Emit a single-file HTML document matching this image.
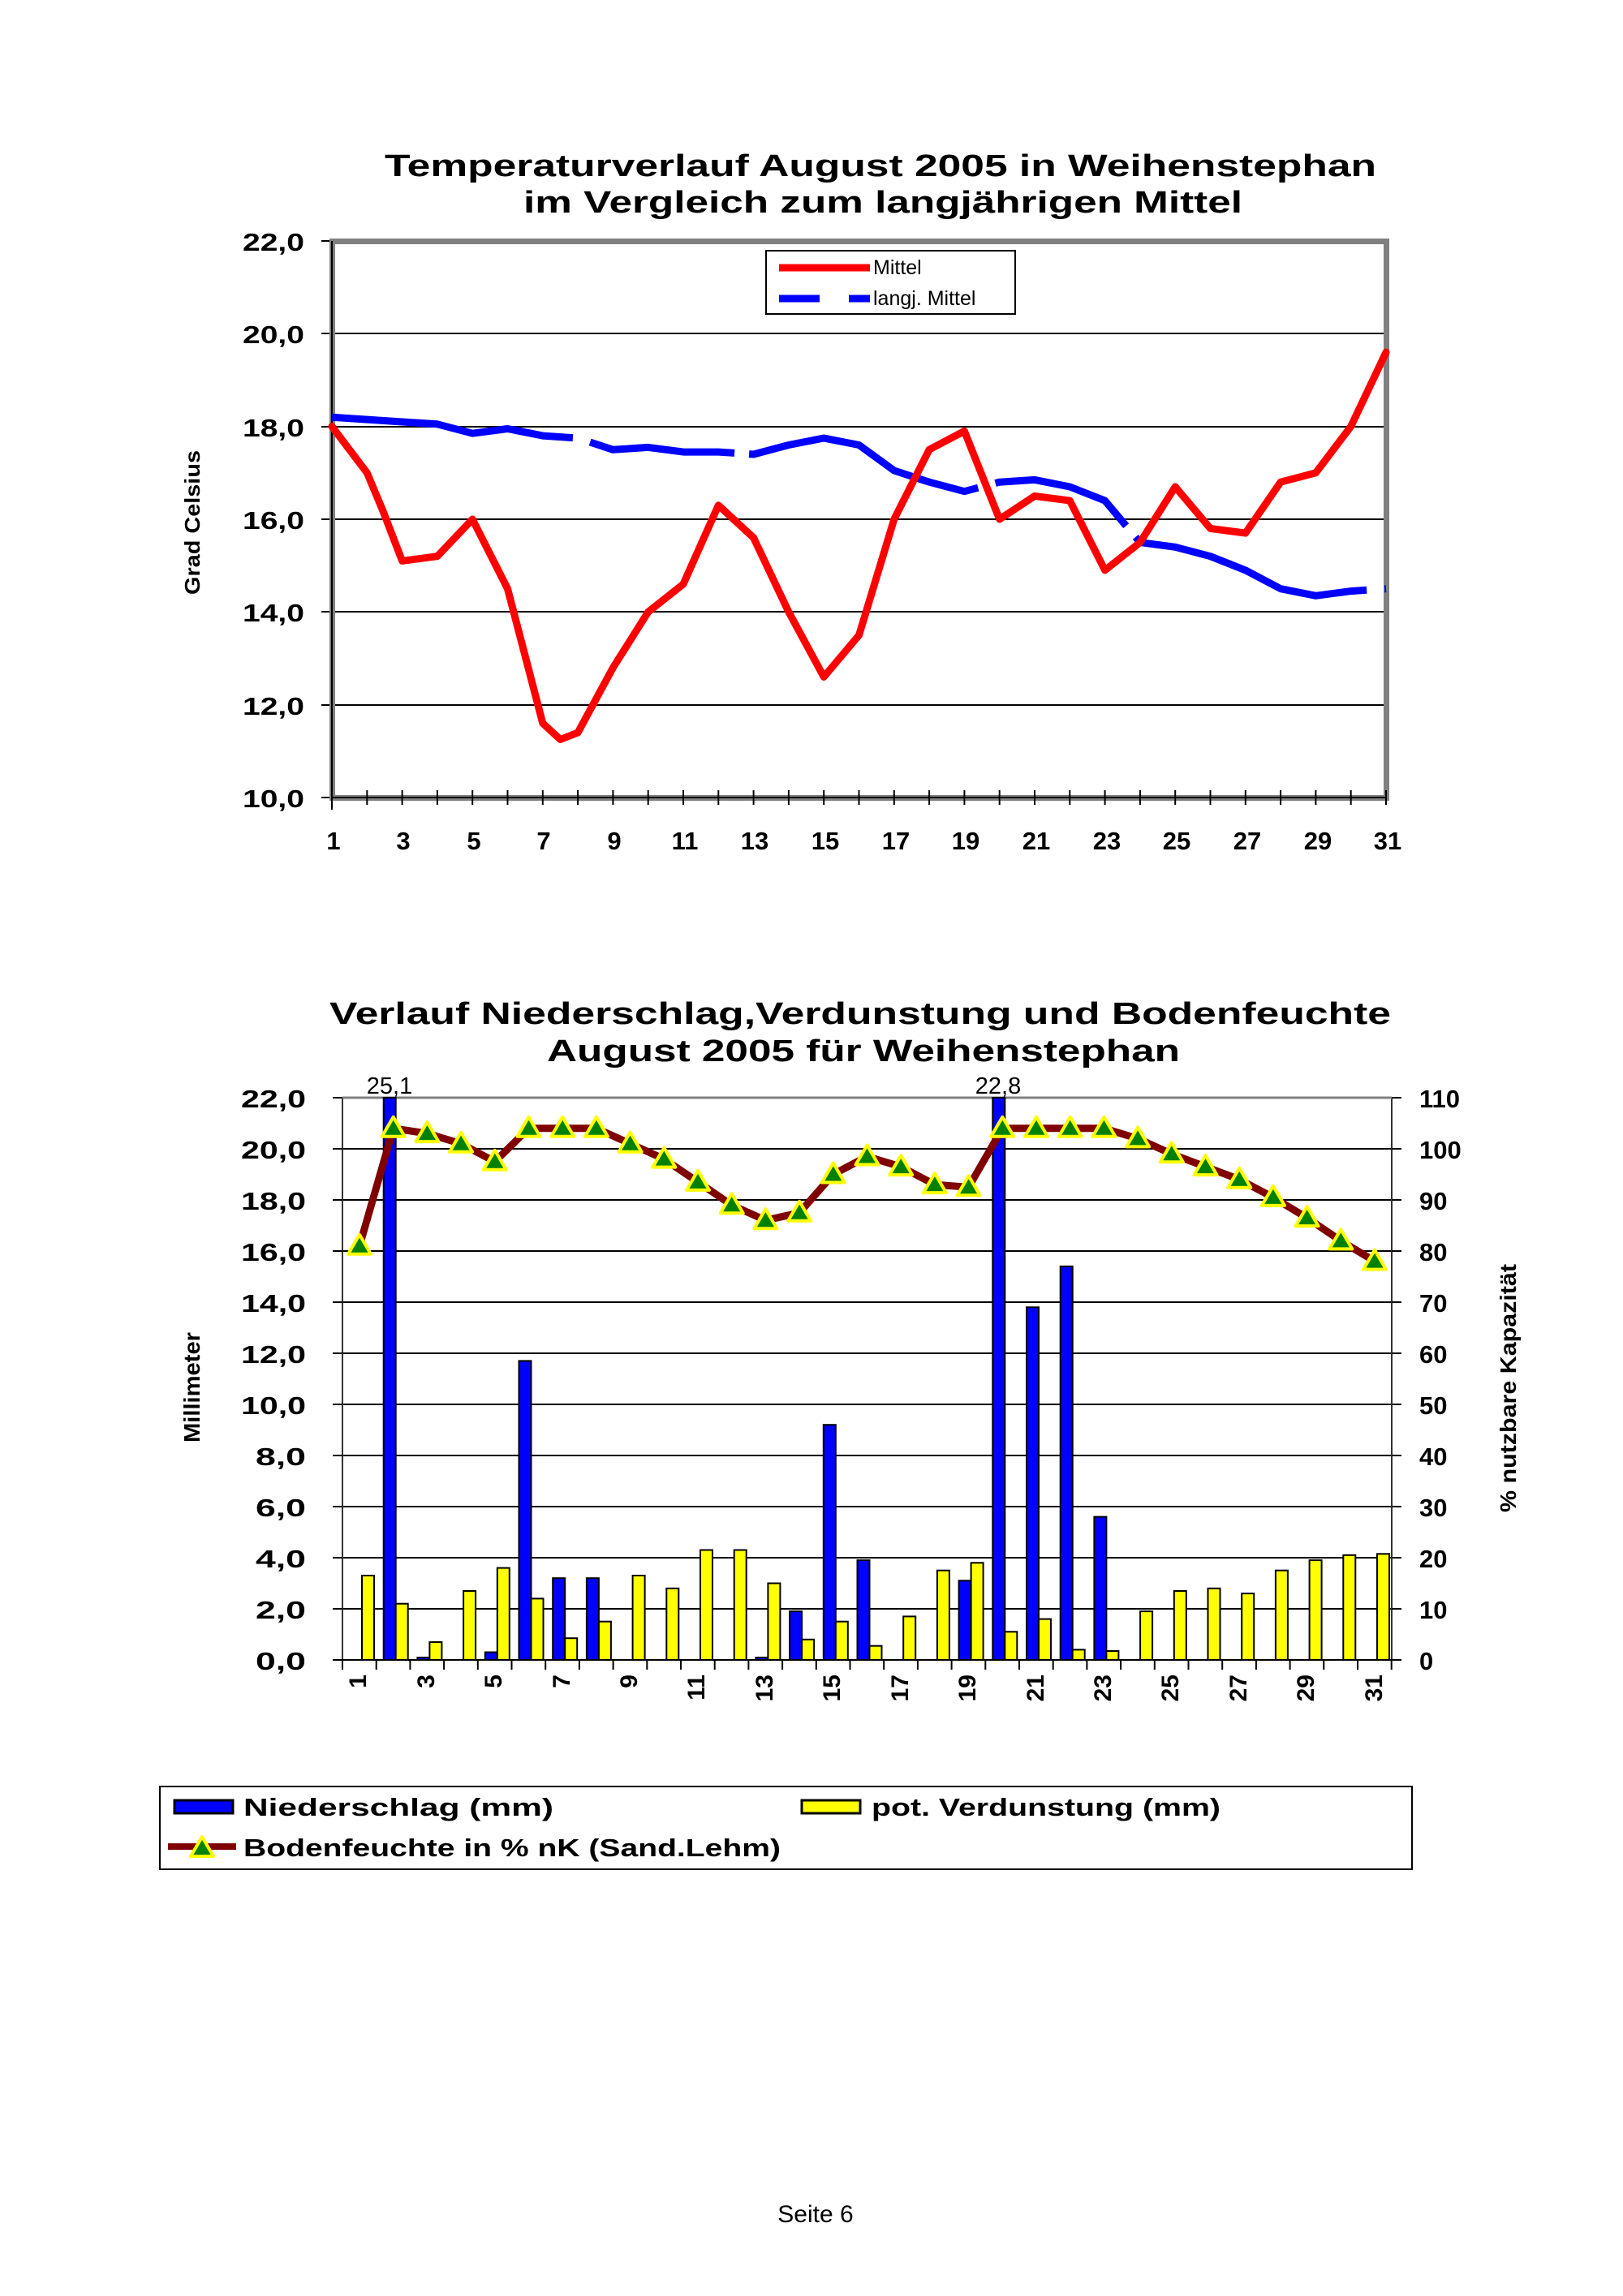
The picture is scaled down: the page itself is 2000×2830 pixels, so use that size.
<!DOCTYPE html>
<html><head><meta charset="utf-8"><style>
html,body{margin:0;padding:0;background:#fff}
svg{display:block}
text{font-family:"Liberation Sans",Arial,sans-serif}
.b{font-weight:bold}
</style></head><body>
<svg width="2000" height="2830" viewBox="0 0 2000 2830" xmlns="http://www.w3.org/2000/svg">
<defs>
<polygon id="tri" points="0,-14 14,10 -14,10" fill="#008000" stroke="#ffff00" stroke-width="4" stroke-linejoin="round"/>
</defs>

<!-- ============ CHART 1 ============ -->
<text class="b" x="1085" y="217" font-size="38" text-anchor="middle" textLength="1222" lengthAdjust="spacingAndGlyphs">Temperaturverlauf August 2005 in Weihenstephan</text>
<text class="b" x="1088" y="262" font-size="38" text-anchor="middle" textLength="886" lengthAdjust="spacingAndGlyphs">im Vergleich zum langjährigen Mittel</text>

<g stroke="#000" stroke-width="2">
<line x1="409" y1="411" x2="1708" y2="411"/>
<line x1="409" y1="526" x2="1708" y2="526"/>
<line x1="409" y1="640" x2="1708" y2="640"/>
<line x1="409" y1="754" x2="1708" y2="754"/>
<line x1="409" y1="869" x2="1708" y2="869"/>
<line x1="396" y1="297" x2="409" y2="297"/>
<line x1="396" y1="411" x2="409" y2="411"/>
<line x1="396" y1="526" x2="409" y2="526"/>
<line x1="396" y1="640" x2="409" y2="640"/>
<line x1="396" y1="754" x2="409" y2="754"/>
<line x1="396" y1="869" x2="409" y2="869"/>
<line x1="396" y1="983" x2="409" y2="983"/>
</g>
<!-- frame -->
<rect x="406" y="294" width="7" height="692" fill="#808080"/>
<rect x="406" y="294" width="1306" height="7" fill="#808080"/>
<rect x="1705" y="294" width="7" height="692" fill="#808080"/>
<rect x="406" y="980" width="1306" height="7" fill="#808080"/>
<line x1="409" y1="297" x2="409" y2="983" stroke="#000" stroke-width="2"/>
<line x1="409" y1="983" x2="1708" y2="983" stroke="#000" stroke-width="2"/>
<g stroke="#000" stroke-width="2">
<path d="M409 983v15M452.3 974v18M495.6 974v18M538.9 974v18M582.2 974v18M625.5 974v18M668.8 974v18M712.1 974v18M755.4 974v18M798.7 974v18M842 974v18M885.3 974v18M928.6 974v18M971.9 974v18M1015.2 974v18M1058.5 974v18M1101.8 974v18M1145.1 974v18M1188.4 974v18M1231.7 974v18M1275 974v18M1318.3 974v18M1361.6 974v18M1404.9 974v18M1448.2 974v18M1491.5 974v18M1534.8 974v18M1578.1 974v18M1621.4 974v18M1664.7 974v18M1708 974v18"/>
</g>
<g class="b" font-size="31" text-anchor="end">
<text x="375" y="309" textLength="76" lengthAdjust="spacingAndGlyphs">22,0</text>
<text x="375" y="423" textLength="76" lengthAdjust="spacingAndGlyphs">20,0</text>
<text x="375" y="538" textLength="76" lengthAdjust="spacingAndGlyphs">18,0</text>
<text x="375" y="652" textLength="76" lengthAdjust="spacingAndGlyphs">16,0</text>
<text x="375" y="766" textLength="76" lengthAdjust="spacingAndGlyphs">14,0</text>
<text x="375" y="881" textLength="76" lengthAdjust="spacingAndGlyphs">12,0</text>
<text x="375" y="995" textLength="76" lengthAdjust="spacingAndGlyphs">10,0</text>
</g>
<g class="b" font-size="31" text-anchor="middle">
<text x="411" y="1047">1</text><text x="497" y="1047">3</text><text x="584" y="1047">5</text><text x="670" y="1047">7</text><text x="757" y="1047">9</text>
<text x="844" y="1047">11</text><text x="930" y="1047">13</text><text x="1017" y="1047">15</text><text x="1104" y="1047">17</text><text x="1190" y="1047">19</text>
<text x="1277" y="1047">21</text><text x="1364" y="1047">23</text><text x="1450" y="1047">25</text><text x="1537" y="1047">27</text><text x="1624" y="1047">29</text><text x="1710" y="1047">31</text>
</g>
<text class="b" font-size="26" transform="translate(246,644) rotate(-90)" text-anchor="middle" textLength="178" lengthAdjust="spacingAndGlyphs">Grad Celsius</text>

<polyline fill="none" stroke="#0000ff" stroke-width="9" stroke-dasharray="300 22 180 18" stroke-linejoin="round" points="409,514.2 452.3,517.1 495.6,520 538.9,522.8 582.2,534.2 625.5,528.5 668.8,537.1 712.1,540 755.4,554.3 798.7,551.4 842,557.1 885.3,557.1 928.6,560 971.9,548.5 1015.2,540 1058.5,548.5 1101.8,580 1145.1,594.2 1188.4,605.7 1231.7,594.2 1275,591.4 1318.3,600 1361.6,617.1 1404.9,668.6 1448.2,674.3 1491.5,685.7 1534.8,702.9 1578.1,725.7 1621.4,734.3 1664.7,728.6 1708,725.7"/>
<polyline fill="none" stroke="#ff0000" stroke-width="9" stroke-linejoin="round" stroke-linecap="round" points="409,525.6 452.3,582.8 472,630 495.6,691.4 538.9,685.7 582.2,640 625.5,725.7 668.8,891.5 690.5,911.5 712.1,903 755.4,823 798.7,754.3 842,720 885.3,622.8 928.6,662.8 971.9,754.3 1015.2,834.4 1058.5,783 1101.8,640 1145.1,554.2 1188.4,531.4 1231.7,640 1275,611.4 1318.3,617.1 1361.6,702.9 1404.9,668.6 1448.2,600 1491.5,651.4 1534.8,657.1 1578.1,594.2 1621.4,582.8 1664.7,525.6 1708,434.2"/>

<rect x="944" y="309" width="307" height="78" fill="#fff" stroke="#000" stroke-width="2"/>
<line x1="960" y1="330" x2="1072" y2="330" stroke="#ff0000" stroke-width="9"/>
<text x="1076" y="338" font-size="25">Mittel</text>
<line x1="960" y1="368" x2="1072" y2="368" stroke="#0000ff" stroke-width="9" stroke-dasharray="50 36"/>
<text x="1076" y="376" font-size="25">langj. Mittel</text>

<!-- ============ CHART 2 ============ -->
<text class="b" x="1060" y="1262" font-size="38" text-anchor="middle" textLength="1308" lengthAdjust="spacingAndGlyphs">Verlauf Niederschlag,Verdunstung und Bodenfeuchte</text>
<text class="b" x="1064" y="1308" font-size="38" text-anchor="middle" textLength="780" lengthAdjust="spacingAndGlyphs">August 2005 für Weihenstephan</text>

<g stroke="#000" stroke-width="2">
<line x1="422" y1="1416" x2="1715" y2="1416"/>
<line x1="422" y1="1479" x2="1715" y2="1479"/>
<line x1="422" y1="1542" x2="1715" y2="1542"/>
<line x1="422" y1="1605" x2="1715" y2="1605"/>
<line x1="422" y1="1668" x2="1715" y2="1668"/>
<line x1="422" y1="1731" x2="1715" y2="1731"/>
<line x1="422" y1="1794" x2="1715" y2="1794"/>
<line x1="422" y1="1857" x2="1715" y2="1857"/>
<line x1="422" y1="1920" x2="1715" y2="1920"/>
<line x1="422" y1="1983" x2="1715" y2="1983"/>
<line x1="422" y1="1353" x2="422" y2="2046" stroke="#333"/>
<line x1="1715" y1="1353" x2="1715" y2="2046" stroke="#333"/>
<line x1="422" y1="2046" x2="1715" y2="2046"/>
<path d="M410 1353h12M410 1416h12M410 1479h12M410 1542h12M410 1605h12M410 1668h12M410 1731h12M410 1794h12M410 1857h12M410 1920h12M410 1983h12M410 2046h12"/>
<path d="M1715 1353h12M1715 1416h12M1715 1479h12M1715 1542h12M1715 1605h12M1715 1668h12M1715 1731h12M1715 1794h12M1715 1857h12M1715 1920h12M1715 1983h12M1715 2046h12"/>
<path d="M422 2046v12M463.7 2046v12M505.4 2046v12M547.1 2046v12M588.8 2046v12M630.5 2046v12M672.2 2046v12M713.9 2046v12M755.6 2046v12M797.3 2046v12M839 2046v12M880.7 2046v12M922.4 2046v12M964.1 2046v12M1005.8 2046v12M1047.5 2046v12M1089.2 2046v12M1130.9 2046v12M1172.6 2046v12M1214.3 2046v12M1256 2046v12M1297.7 2046v12M1339.4 2046v12M1381.1 2046v12M1422.8 2046v12M1464.5 2046v12M1506.2 2046v12M1547.9 2046v12M1589.6 2046v12M1631.3 2046v12M1673 2046v12M1714.7 2046v12"/>
</g>
<line x1="422" y1="1353" x2="1715" y2="1353" stroke="#808080" stroke-width="3"/>

<!-- bars -->
<g transform="translate(0,2046) scale(1,-1)" stroke="#000" stroke-width="2">
<g fill="#0000ff">
<rect x="472.7" y="0" width="15" height="693"/>
<rect x="514.4" y="0" width="15" height="3"/>
<rect x="597.8" y="0" width="15" height="9.5"/>
<rect x="639.5" y="0" width="15" height="368.6"/>
<rect x="681.2" y="0" width="15" height="100.8"/>
<rect x="722.9" y="0" width="15" height="100.8"/>
<rect x="931.4" y="0" width="15" height="3"/>
<rect x="973.1" y="0" width="15" height="59.9"/>
<rect x="1014.8" y="0" width="15" height="289.8"/>
<rect x="1056.5" y="0" width="15" height="122.9"/>
<rect x="1181.6" y="0" width="15" height="97.7"/>
<rect x="1223.3" y="0" width="15" height="693"/>
<rect x="1265" y="0" width="15" height="434.7"/>
<rect x="1306.7" y="0" width="15" height="485.1"/>
<rect x="1348.4" y="0" width="15" height="176.4"/>
</g>
<g fill="#ffff00">
<rect x="446" y="0" width="15" height="104"/>
<rect x="487.7" y="0" width="15" height="69.3"/>
<rect x="529.4" y="0" width="15" height="22"/>
<rect x="571.1" y="0" width="15" height="85"/>
<rect x="612.8" y="0" width="15" height="113.4"/>
<rect x="654.5" y="0" width="15" height="75.6"/>
<rect x="696.2" y="0" width="15" height="26.8"/>
<rect x="737.9" y="0" width="15" height="47.3"/>
<rect x="779.6" y="0" width="15" height="104"/>
<rect x="821.3" y="0" width="15" height="88.2"/>
<rect x="863" y="0" width="15" height="135.5"/>
<rect x="904.7" y="0" width="15" height="135.5"/>
<rect x="946.4" y="0" width="15" height="94.5"/>
<rect x="988.1" y="0" width="15" height="25.2"/>
<rect x="1029.8" y="0" width="15" height="47.3"/>
<rect x="1071.5" y="0" width="15" height="17.3"/>
<rect x="1113.2" y="0" width="15" height="53.6"/>
<rect x="1154.9" y="0" width="15" height="110.3"/>
<rect x="1196.6" y="0" width="15" height="119.7"/>
<rect x="1238.3" y="0" width="15" height="34.7"/>
<rect x="1280" y="0" width="15" height="50.4"/>
<rect x="1321.7" y="0" width="15" height="12.6"/>
<rect x="1363.4" y="0" width="15" height="11"/>
<rect x="1405.1" y="0" width="15" height="59.9"/>
<rect x="1446.8" y="0" width="15" height="85"/>
<rect x="1488.5" y="0" width="15" height="88.2"/>
<rect x="1530.2" y="0" width="15" height="81.9"/>
<rect x="1571.9" y="0" width="15" height="110.3"/>
<rect x="1613.6" y="0" width="15" height="122.9"/>
<rect x="1655.3" y="0" width="15" height="129.2"/>
<rect x="1697" y="0" width="15" height="130.7"/>
</g>
</g>

<text x="480" y="1348" font-size="29" text-anchor="middle">25,1</text>
<text x="1230" y="1348" font-size="29" text-anchor="middle">22,8</text>

<polyline fill="none" stroke="#800000" stroke-width="9" stroke-linejoin="round" points="443,1535.7 484.7,1390.8 526.4,1397.1 568.1,1409.7 609.8,1431.8 651.5,1390.8 693.2,1390.8 734.9,1390.8 776.6,1409.7 818.3,1428.6 860,1456.9 901.7,1485.3 943.4,1504.2 985.1,1494.8 1026.8,1447.5 1068.5,1425.5 1110.2,1438.1 1151.9,1460.1 1193.6,1463.3 1235.3,1390.8 1277,1390.8 1318.7,1390.8 1360.4,1390.8 1402.1,1403.4 1443.8,1422.3 1485.5,1438.1 1527.2,1453.8 1568.9,1475.9 1610.6,1501.1 1652.3,1529.4 1694,1554.6"/>
<g>
<use href="#tri" x="443" y="1535.7"/><use href="#tri" x="484.7" y="1390.8"/><use href="#tri" x="526.4" y="1397.1"/><use href="#tri" x="568.1" y="1409.7"/><use href="#tri" x="609.8" y="1431.8"/><use href="#tri" x="651.5" y="1390.8"/><use href="#tri" x="693.2" y="1390.8"/><use href="#tri" x="734.9" y="1390.8"/><use href="#tri" x="776.6" y="1409.7"/><use href="#tri" x="818.3" y="1428.6"/><use href="#tri" x="860" y="1456.9"/><use href="#tri" x="901.7" y="1485.3"/><use href="#tri" x="943.4" y="1504.2"/><use href="#tri" x="985.1" y="1494.8"/><use href="#tri" x="1026.8" y="1447.5"/><use href="#tri" x="1068.5" y="1425.5"/><use href="#tri" x="1110.2" y="1438.1"/><use href="#tri" x="1151.9" y="1460.1"/><use href="#tri" x="1193.6" y="1463.3"/><use href="#tri" x="1235.3" y="1390.8"/><use href="#tri" x="1277" y="1390.8"/><use href="#tri" x="1318.7" y="1390.8"/><use href="#tri" x="1360.4" y="1390.8"/><use href="#tri" x="1402.1" y="1403.4"/><use href="#tri" x="1443.8" y="1422.3"/><use href="#tri" x="1485.5" y="1438.1"/><use href="#tri" x="1527.2" y="1453.8"/><use href="#tri" x="1568.9" y="1475.9"/><use href="#tri" x="1610.6" y="1501.1"/><use href="#tri" x="1652.3" y="1529.4"/><use href="#tri" x="1694" y="1554.6"/>
</g>

<g class="b" font-size="31" text-anchor="end">
<text x="377" y="1365" textLength="80" lengthAdjust="spacingAndGlyphs">22,0</text>
<text x="377" y="1428" textLength="80" lengthAdjust="spacingAndGlyphs">20,0</text>
<text x="377" y="1491" textLength="80" lengthAdjust="spacingAndGlyphs">18,0</text>
<text x="377" y="1554" textLength="80" lengthAdjust="spacingAndGlyphs">16,0</text>
<text x="377" y="1617" textLength="80" lengthAdjust="spacingAndGlyphs">14,0</text>
<text x="377" y="1680" textLength="80" lengthAdjust="spacingAndGlyphs">12,0</text>
<text x="377" y="1743" textLength="80" lengthAdjust="spacingAndGlyphs">10,0</text>
<text x="377" y="1806" textLength="62" lengthAdjust="spacingAndGlyphs">8,0</text>
<text x="377" y="1869" textLength="62" lengthAdjust="spacingAndGlyphs">6,0</text>
<text x="377" y="1932" textLength="62" lengthAdjust="spacingAndGlyphs">4,0</text>
<text x="377" y="1995" textLength="62" lengthAdjust="spacingAndGlyphs">2,0</text>
<text x="377" y="2058" textLength="62" lengthAdjust="spacingAndGlyphs">0,0</text>
</g>
<g class="b" font-size="31" text-anchor="start">
<text x="1749" y="1365">110</text><text x="1749" y="1428">100</text><text x="1749" y="1491">90</text><text x="1749" y="1554">80</text>
<text x="1749" y="1617">70</text><text x="1749" y="1680">60</text><text x="1749" y="1743">50</text><text x="1749" y="1806">40</text>
<text x="1749" y="1869">30</text><text x="1749" y="1932">20</text><text x="1749" y="1995">10</text><text x="1749" y="2058">0</text>
</g>
<g class="b" font-size="30" text-anchor="end">
<text transform="translate(451,2064) rotate(-90)">1</text>
<text transform="translate(535,2064) rotate(-90)">3</text>
<text transform="translate(618,2064) rotate(-90)">5</text>
<text transform="translate(702,2064) rotate(-90)">7</text>
<text transform="translate(785,2064) rotate(-90)">9</text>
<text transform="translate(868,2064) rotate(-90)">11</text>
<text transform="translate(952,2064) rotate(-90)">13</text>
<text transform="translate(1035,2064) rotate(-90)">15</text>
<text transform="translate(1119,2064) rotate(-90)">17</text>
<text transform="translate(1202,2064) rotate(-90)">19</text>
<text transform="translate(1286,2064) rotate(-90)">21</text>
<text transform="translate(1369,2064) rotate(-90)">23</text>
<text transform="translate(1452,2064) rotate(-90)">25</text>
<text transform="translate(1536,2064) rotate(-90)">27</text>
<text transform="translate(1619,2064) rotate(-90)">29</text>
<text transform="translate(1703,2064) rotate(-90)">31</text>
</g>
<text class="b" font-size="28" transform="translate(246,1710) rotate(-90)" text-anchor="middle" textLength="136" lengthAdjust="spacingAndGlyphs">Millimeter</text>
<text class="b" font-size="28" transform="translate(1868,1711) rotate(-90)" text-anchor="middle" textLength="306" lengthAdjust="spacingAndGlyphs">% nutzbare Kapazität</text>

<!-- legend -->
<rect x="197" y="2202" width="1543" height="102" fill="#fff" stroke="#000" stroke-width="2"/>
<rect x="215" y="2219" width="72" height="16" fill="#0000ff" stroke="#000" stroke-width="3"/>
<text class="b" x="300" y="2238" font-size="31" textLength="382" lengthAdjust="spacingAndGlyphs">Niederschlag (mm)</text>
<rect x="988" y="2219" width="72" height="16" fill="#ffff00" stroke="#000" stroke-width="3"/>
<text class="b" x="1074" y="2238" font-size="31" textLength="430" lengthAdjust="spacingAndGlyphs">pot. Verdunstung (mm)</text>
<line x1="207" y1="2276" x2="291" y2="2276" stroke="#800000" stroke-width="8"/>
<use href="#tri" x="249" y="2278"/>
<text class="b" x="300" y="2288" font-size="31" textLength="662" lengthAdjust="spacingAndGlyphs">Bodenfeuchte in % nK (Sand.Lehm)</text>

<text x="1005" y="2739" font-size="30" text-anchor="middle">Seite 6</text>
</svg>
</body></html>
